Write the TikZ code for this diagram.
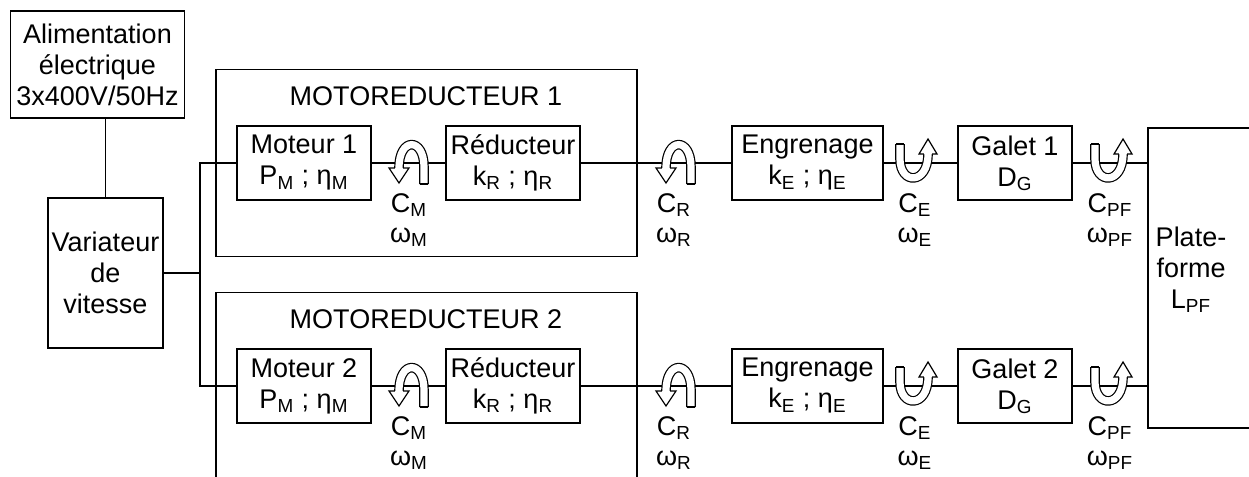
\documentclass[tikz,border=0pt]{standalone}
\usepackage{fontspec}
\setmainfont{Liberation Sans}
\usepackage{tikz}

\newcommand\boxfont{\fontsize{13.5}{15.5}\selectfont}
\newcommand\lblfont{\fontsize{13.5}{15}\selectfont}

\tikzset{
  blk/.style={draw, line width=0.9pt, inner sep=1pt, align=center, font=\boxfont,
    minimum height=37pt},
  frame/.style={draw, line width=0.9pt, inner sep=0pt, minimum width=210.5pt,
    minimum height=93.5pt},
  txt/.style={inner sep=0pt, align=center, font=\boxfont},
  lbl/.style={inner sep=0pt, align=center, font=\lblfont},
  link/.style={line width=0.9pt},
  band/.style={draw, line width=0.6pt, double, double distance=3.6pt},
  rotA/.pic={
    \draw[band] (15,21) -- (15,4) .. controls (15,-26) and (-10,-26) .. (-10,5);
    \draw[line width=0.6pt] (10.8,21) -- (19.2,21);
    \filldraw[fill=white, line width=0.6pt] (-14.2,5) -- (-20,5) -- (-10,20) -- (0,5) -- (-5.8,5);
  },
  rotB/.pic={
    \draw[band] (-14,-19) -- (-14,-4) .. controls (-14,22) and (14,22) .. (14,-9);
    \draw[line width=0.6pt] (-18.2,-19) -- (-9.8,-19);
    \filldraw[fill=white, line width=0.6pt] (9.8,-9) -- (5,-9) -- (14,-24) -- (23,-9) -- (18.2,-9);
  },
}

\begin{document}
\begin{tikzpicture}[x=0.5pt,y=-0.5pt]
  \useasboundingbox (0,0) rectangle (1249,477);
  \clip (0,0) rectangle (1249,477);

  \node[blk, minimum width=87pt, minimum height=53.5pt] (alim) at (97.5,64.5)
    {Alimentation\\électrique\\3x400V/50Hz};
  \node[blk, minimum width=57.5pt, minimum height=75pt] (var) at (105.5,273)
    {Variateur\\de\\vitesse};
  \node[blk, minimum width=60pt, minimum height=150pt] (plat) at (1208,278) {};
  \node[txt] (plattxt) at (1191,270) {Plate-\\forme\\L\textsubscript{PF}};
  \coordinate (bus) at (200,273);

  \draw[link] (var.north) -- (var.north |- alim.south);
  \draw[link] (var.east) -- (bus);

  \foreach \r/\y in {1/163,2/386} {
    \node[frame] (mr\r) at (426.5,\y) {};
    \node[txt] (title\r) at (426,\y-67) {MOTOREDUCTEUR \r};
    \node[blk, minimum width=67pt] (mot\r) at (304,\y)
      {Moteur \r\\P\textsubscript{M} ; η\textsubscript{M}};
    \node[blk, minimum width=67pt] (red\r) at (513,\y)
      {Réducteur\\k\textsubscript{R} ; η\textsubscript{R}};
    \node[blk, minimum width=75.5pt] (eng\r) at (807.5,\y)
      {Engrenage\\k\textsubscript{E} ; η\textsubscript{E}};
    \node[blk, minimum width=57pt] (gal\r) at (1015,\y)
      {Galet \r\\D\textsubscript{G}};

    \draw[link] (mot\r.west) -| (bus);
    \draw[link] (mot\r) -- (red\r);
    \draw[link] (red\r) -- (eng\r);
    \draw[link] (eng\r) -- (gal\r);
    \draw[link] (gal\r) -- (gal\r -| plat.west);

    % torque / speed
    \pic at (409,\y) {rotA};
    \pic at (676,\y) {rotA};
    \pic at (914,\y) {rotB};
    \pic at (1109,\y) {rotB};
    \node[lbl] (cm\r) at (409,\y+57) {C\textsubscript{M}\\ω\textsubscript{M}};
    \node[lbl] (cr\r) at (674,\y+57) {C\textsubscript{R}\\ω\textsubscript{R}};
    \node[lbl] (ce\r) at (915,\y+57) {C\textsubscript{E}\\ω\textsubscript{E}};
    \node[lbl] (cpf\r) at (1110,\y+57) {C\textsubscript{PF}\\ω\textsubscript{PF}};
  }
\end{tikzpicture}
\end{document}
